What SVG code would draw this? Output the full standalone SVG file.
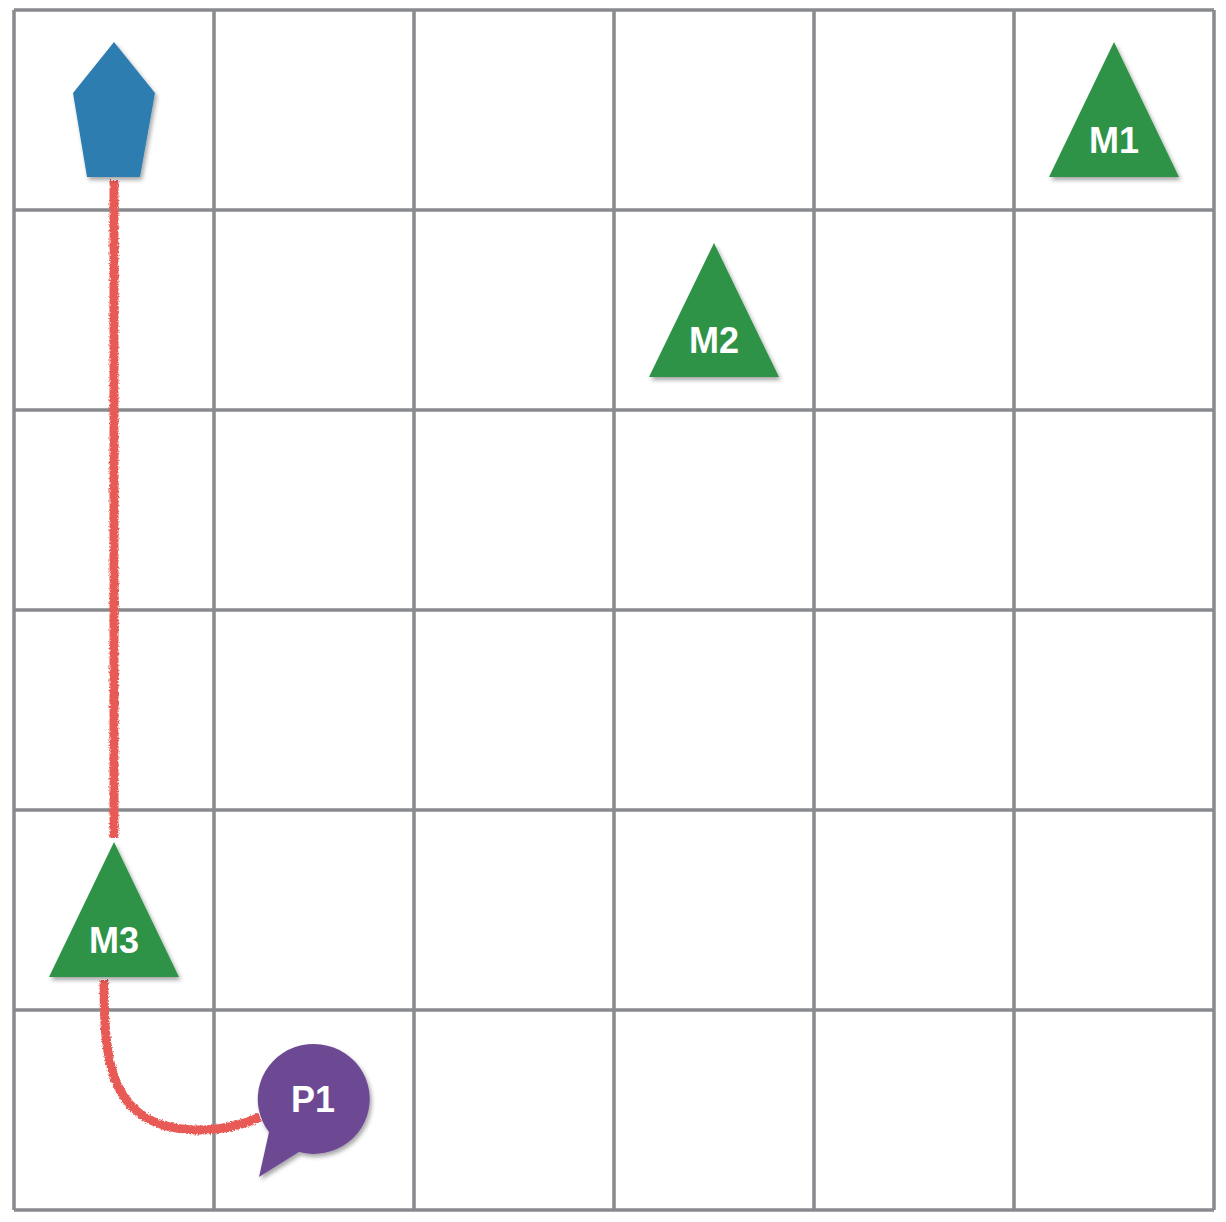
<svg xmlns="http://www.w3.org/2000/svg" width="1226" height="1222" viewBox="0 0 1226 1222">
<style>
.grid{stroke:#898a8e;stroke-width:3.5;fill:none}
.tri{fill:#2f9346;filter:url(#sh)}
.lbl{font-family:"Liberation Sans",Arial,sans-serif;font-weight:bold;font-size:36px;fill:#ffffff;text-anchor:middle}
.path{stroke:#e85a54;stroke-width:9;fill:none;stroke-linecap:butt;filter:url(#rough)}
</style>
<defs>
<filter id="sh" x="-20%" y="-20%" width="140%" height="140%">
<feDropShadow dx="2" dy="3" stdDeviation="2" flood-color="#000" flood-opacity="0.35"/>
</filter>
<filter id="rough" filterUnits="userSpaceOnUse" x="0" y="0" width="1226" height="1222">
<feTurbulence type="fractalNoise" baseFrequency="0.6" numOctaves="2" seed="3" result="n"/>
<feDisplacementMap in="SourceGraphic" in2="n" scale="4" xChannelSelector="R" yChannelSelector="G"/>
</filter>
</defs>
<rect width="1226" height="1222" fill="#ffffff"/>
<g id="grid">
<path class="grid" d="M14 10V1210M214 10V1210M414 10V1210M614 10V1210M814 10V1210M1014 10V1210M1214 10V1210M14 10H1214M14 210H1214M14 410H1214M14 610H1214M14 810H1214M14 1010H1214M14 1210H1214"/>
</g>
<g id="connectors">
<path class="path" d="M114 180V838"/>
<path class="path" d="M104 980C104 1060 108 1130 200 1130C225 1130 245 1124 260 1117"/>
</g>
<g id="start">
<polygon points="114,42 155,93 140,177 87,177 73,93" fill="#2f7db1" filter="url(#sh)"/>
</g>
<g id="M1">
<polygon class="tri" points="1114,42 1179,177 1049,177"/>
<text class="lbl" x="1114" y="153">M1</text>
</g>
<g id="M2">
<polygon class="tri" points="714,243 779,377 649,377"/>
<text class="lbl" x="714" y="353">M2</text>
</g>
<g id="M3">
<polygon class="tri" points="114,842 179,977 49,977"/>
<text class="lbl" x="114" y="953">M3</text>
</g>
<g id="P1">
<path d="M269 1132A56 55 0 1 1 299 1152L259 1177Z" fill="#6e4a93" filter="url(#sh)"/>
<text class="lbl" x="313" y="1112">P1</text>
</g>
</svg>
